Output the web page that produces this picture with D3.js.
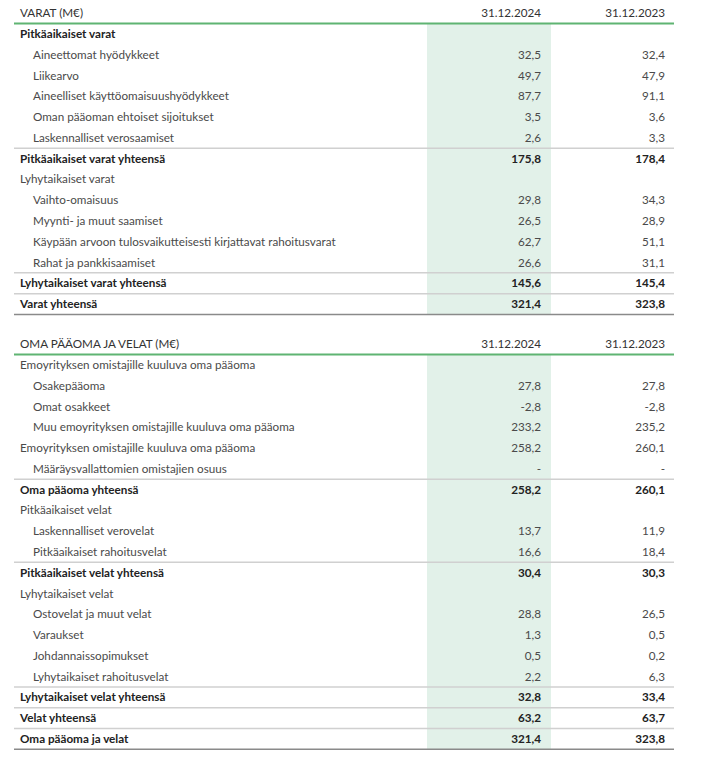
<!DOCTYPE html>
<html><head><meta charset="utf-8">
<script src="https://cdn.jsdelivr.net/npm/d3@7"></script>
<style>
body{margin:0;background:#fff;}
svg{display:block;}
text{font-family:Lato,"Open Sans",sans-serif;font-size:11.7px;fill:#4a4a4a;}
</style></head><body>
<svg id="c" width="709" height="768"></svg>
<script>
// ---- data ----
const columns = ["31.12.2024", "31.12.2023"];

const assetsTitle = "VARAT (M€)";
const assetsLabels = [
  "Pitkäaikaiset varat",
  "Aineettomat hyödykkeet",
  "Liikearvo",
  "Aineelliset käyttöomaisuushyödykkeet",
  "Oman pääoman ehtoiset sijoitukset",
  "Laskennalliset verosaamiset",
  "Pitkäaikaiset varat yhteensä",
  "Lyhytaikaiset varat",
  "Vaihto-omaisuus",
  "Myynti- ja muut saamiset",
  "Käypään arvoon tulosvaikutteisesti kirjattavat rahoitusvarat",
  "Rahat ja pankkisaamiset",
  "Lyhytaikaiset varat yhteensä",
  "Varat yhteensä"
];
// row kinds: h = bold heading, g = group label, i = indented item, s = plain subtotal, t = bold total
const assetsKinds = ["h","i","i","i","i","i","t","g","i","i","i","i","t","t"];
const assets2024 = [null,32.5,49.7,87.7,3.5,2.6,175.8,null,29.8,26.5,62.7,26.6,145.6,321.4];
const assets2023 = [null,32.4,47.9,91.1,3.6,3.3,178.4,null,34.3,28.9,51.1,31.1,145.4,323.8];

const liabTitle = "OMA PÄÄOMA JA VELAT (M€)";
const liabLabels = [
  "Emoyrityksen omistajille kuuluva oma pääoma",
  "Osakepääoma",
  "Omat osakkeet",
  "Muu emoyrityksen omistajille kuuluva oma pääoma",
  "Emoyrityksen omistajille kuuluva oma pääoma",
  "Määräysvallattomien omistajien osuus",
  "Oma pääoma yhteensä",
  "Pitkäaikaiset velat",
  "Laskennalliset verovelat",
  "Pitkäaikaiset rahoitusvelat",
  "Pitkäaikaiset velat yhteensä",
  "Lyhytaikaiset velat",
  "Ostovelat ja muut velat",
  "Varaukset",
  "Johdannaissopimukset",
  "Lyhytaikaiset rahoitusvelat",
  "Lyhytaikaiset velat yhteensä",
  "Velat yhteensä",
  "Oma pääoma ja velat"
];
const liabKinds = ["g","i","i","i","s","i","t","g","i","i","t","g","i","i","i","i","t","t","t"];
const liab2024 = [null,27.8,-2.8,233.2,258.2,"-",258.2,null,13.7,16.6,30.4,null,28.8,1.3,0.5,2.2,32.8,63.2,321.4];
const liab2023 = [null,27.8,-2.8,235.2,260.1,"-",260.1,null,11.9,18.4,30.3,null,26.5,0.5,0.2,6.3,33.4,63.7,323.8];

// ---- drawing ----
const svg = d3.select("#c");
const x = d3.scaleOrdinal().domain(["left","label0","label1","col0","col1","right"])
  .range([14, 20, 33, 541, 665, 674]);
const shadeX = [427, 551];
const rowH = 20.77;
const fmt = v => v === "-" ? "-" : d3.format(".1f")(v).replace("−", "-").replace(".", ",");

function drawTable(top, title, labels, kinds, v1, v2) {
  const n = labels.length;
  const y = d3.scaleLinear().domain([0, n - 1]).range([top + 21, top + 21 + (n - 1) * rowH]);
  const lineTop = top + 10.5;
  const lineBottom = y(n - 1) + rowH / 2;
  const g = svg.append("g");

  g.append("rect").attr("x", shadeX[0]).attr("y", lineTop)
    .attr("width", shadeX[1] - shadeX[0]).attr("height", lineBottom - lineTop)
    .attr("fill", "#e2f1e9");

  // header
  g.append("text").attr("x", x("label0")).attr("y", top).attr("dy", "0.35em")
    .style("fill", "#333").text(title);
  columns.forEach((c, j) => {
    g.append("text").attr("x", x("col" + j)).attr("y", top).attr("dy", "0.35em")
      .attr("text-anchor", "end").style("fill", "#333").text(c);
  });
  g.append("line").attr("x1", x("left")).attr("x2", x("right"))
    .attr("y1", lineTop).attr("y2", lineTop)
    .attr("stroke", "#5fb472").attr("stroke-width", 2);

  // separator lines above totals
  labels.forEach((l, i) => {
    if (kinds[i] === "t") {
      const yy = y(i) - rowH / 2;
      g.append("line").attr("x1", x("left")).attr("x2", x("right"))
        .attr("y1", yy).attr("y2", yy).attr("stroke", "#d0d0d0").attr("stroke-width", 1.5);
    }
  });
  g.append("line").attr("x1", x("left")).attr("x2", x("right"))
    .attr("y1", lineBottom).attr("y2", lineBottom)
    .attr("stroke", "#8a8a8a").attr("stroke-width", 1.5);

  const rows = g.selectAll("g.row").data(labels.map((l, i) => ({l, k: kinds[i], a: v1[i], b: v2[i], i})))
    .join("g").attr("class", "row").attr("transform", d => `translate(0,${y(d.i)})`);
  rows.append("text")
    .attr("x", d => x(d.k === "i" ? "label1" : "label0"))
    .attr("dy", "0.35em")
    .style("font-weight", d => (d.k === "t" || d.k === "h") ? 700 : 400)
    .style("fill", d => (d.k === "t" || d.k === "h") ? "#222" : "#4a4a4a")
    .text(d => d.l);
  [["a", "col0"], ["b", "col1"]].forEach(([key, col]) => {
    rows.filter(d => d[key] !== null).append("text")
      .attr("x", x(col)).attr("dy", "0.35em").attr("text-anchor", "end")
      .style("font-weight", d => d.k === "t" ? 700 : 400)
      .style("fill", d => d.k === "t" ? "#222" : "#4a4a4a")
      .text(d => fmt(d[key]));
  });
}

drawTable(13, assetsTitle, assetsLabels, assetsKinds, assets2024, assets2023);
drawTable(344, liabTitle, liabLabels, liabKinds, liab2024, liab2023);
</script>
</body></html>
